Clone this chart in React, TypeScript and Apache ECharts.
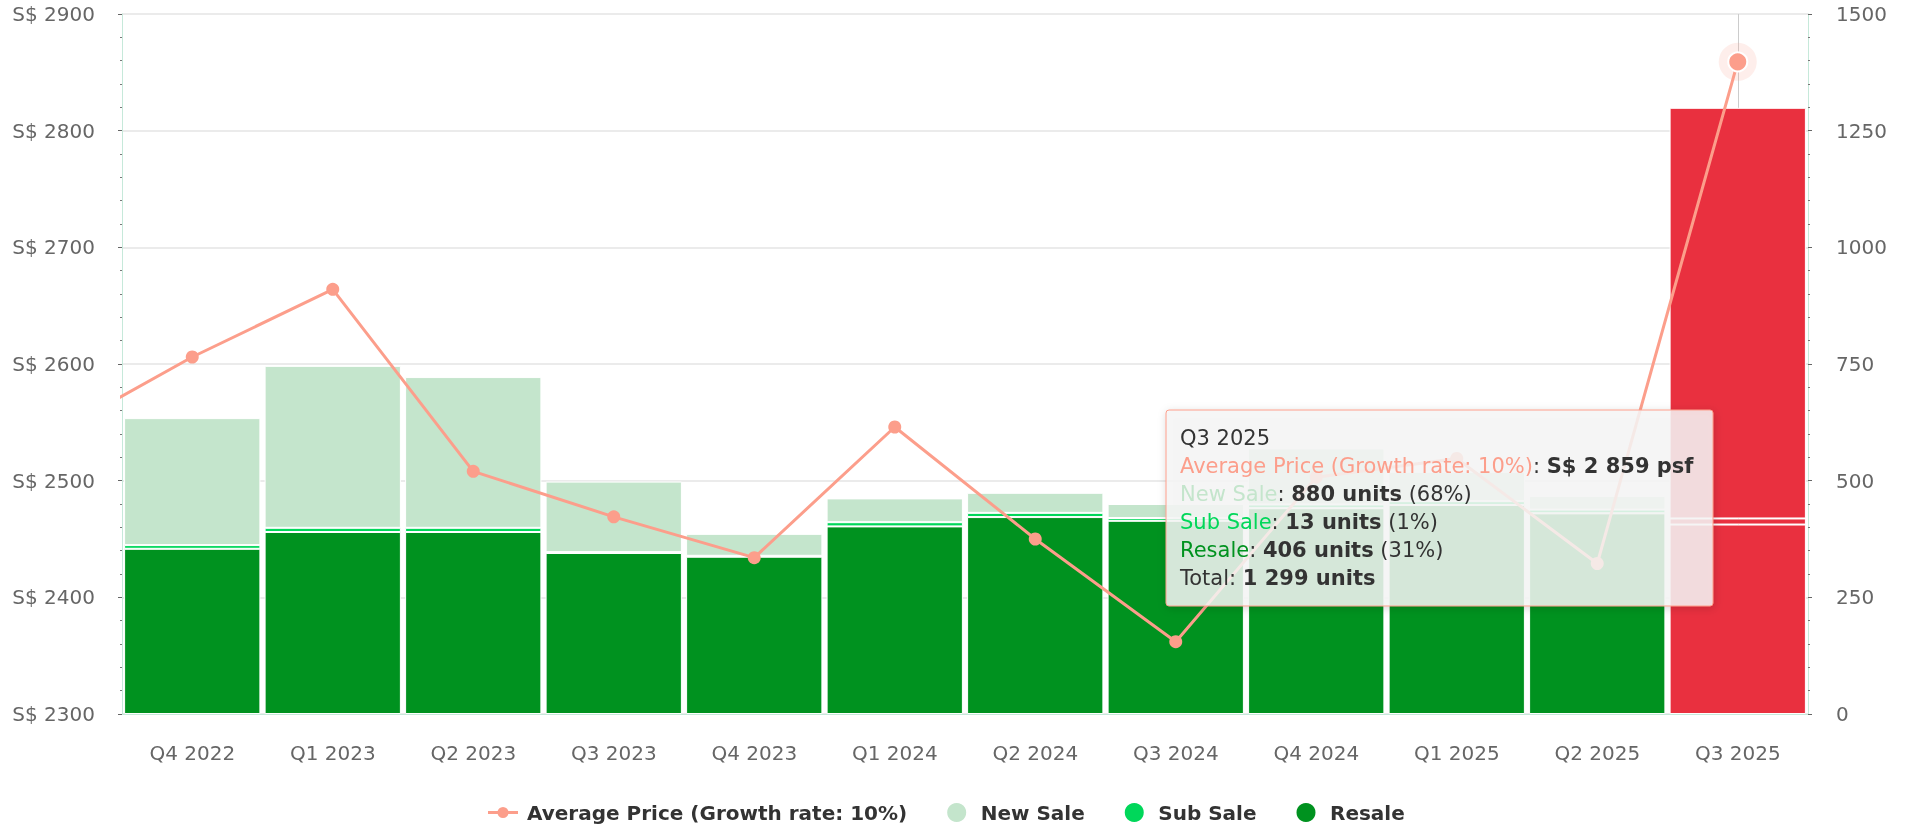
import React, { useEffect, useRef } from 'react';
import * as echarts from 'echarts';

const categories = ['Q4 2022', 'Q1 2023', 'Q2 2023', 'Q3 2023', 'Q4 2023', 'Q1 2024', 'Q2 2024', 'Q3 2024', 'Q4 2024', 'Q1 2025', 'Q2 2025', 'Q3 2025'];
// previous quarter (Q3 2022), only its connecting segment is visible at the left edge
const previousPrice = 2539;
const averagePrice = [2606, 2664, 2508, 2469, 2434, 2546, 2450, 2362, 2503, 2519, 2429, 2859];
const newSale = [272, 347, 323, 151, 47, 51, 43, 30, 120, 63, 29, 880];
const subSale = [8, 9, 9, 2, 2, 9, 9, 6, 8, 8, 8, 13];
const resale = [354, 390, 390, 345, 337, 402, 422, 414, 441, 448, 430, 406];
const highlightIndex = 11;

const priceName = 'Average Price (Growth rate: 10%)';
const FONT = 'DejaVu Sans';
const C_PRICE = '#fc9e8b';
const C_NEW = '#c4e5cc';
const C_SUB = '#00d75a';
const C_RESALE = '#00921f';
const C_HI = '#e9303f';
const C_AXIS = '#c6e9da';

const fmt = (v: number) => String(v).replace(/\B(?=(\d{3})+(?!\d))/g, ' ');

export default function App() {
  const ref = useRef<HTMLDivElement>(null);
  useEffect(() => {
    if (!ref.current) return;
    const chart = echarts.init(ref.current, undefined, { renderer: 'svg' });
    const hi = highlightIndex;
    const total = newSale[hi] + subSale[hi] + resale[hi];
    const pct = (v: number) => Math.round((v / total) * 100) + '%';
    const tipText = [
      `{h|${categories[hi]}}`,
      `{p|${priceName}}{d|: }{b|S$ ${fmt(averagePrice[hi])} psf}`,
      `{n|New Sale}{d|: }{b|${fmt(newSale[hi])} units}{d| (${pct(newSale[hi])})}`,
      `{s|Sub Sale}{d|: }{b|${fmt(subSale[hi])} units}{d| (${pct(subSale[hi])})}`,
      `{r|Resale}{d|: }{b|${fmt(resale[hi])} units}{d| (${pct(resale[hi])})}`,
      `{d|Total: }{b|${fmt(total)} units}`,
    ].join('\n');
    const rs = (color: string, bold = false) => ({
      fill: color, fontFamily: FONT, fontSize: 21, lineHeight: 28, fontWeight: bold ? 'bold' : 'normal',
    });
    const barData = (arr: number[]) =>
      arr.map((v, i) => (i === hi ? { value: v, itemStyle: { color: C_HI } } : v));
    const barCommon = {
      type: 'bar',
      stack: 'units',
      xAxisIndex: 0,
      yAxisIndex: 1,
      barCategoryGap: '3%',
      z: 2,
      emphasis: { disabled: true },
    };
    const lineData: any[] = [{ value: [-1, previousPrice], symbol: 'none' }];
    averagePrice.forEach((v, i) => {
      if (i === hi) {
        lineData.push({ value: [i, v], symbolSize: 19, itemStyle: { borderColor: '#fff', borderWidth: 2 } });
      } else {
        lineData.push([i, v]);
      }
    });
    const legendLineIcon =
      'path://M0,9H10V12H0Z M20,9H30V12H20Z M20.5,10.5A5.5,5.5 0 1 1 9.5,10.5A5.5,5.5 0 1 1 20.5,10.5Z';

    chart.setOption({
      animation: false,
      textStyle: { fontFamily: FONT },
      grid: { left: 122, right: 100, top: 14, bottom: 113, outerBoundsMode: 'none' },
      legend: {
        left: 488,
        top: 801,
        padding: 0,
        itemWidth: 30,
        itemHeight: 21,
        itemGap: 38,
        selectedMode: false,
        textStyle: { fontFamily: FONT, fontSize: 20, fontWeight: 'bold', color: '#333', padding: [0, 0, 0, 4] },
        data: [
          { name: priceName, icon: legendLineIcon },
          { name: 'New Sale', icon: 'circle' },
          { name: 'Sub Sale', icon: 'circle' },
          { name: 'Resale', icon: 'circle' },
        ],
      },
      xAxis: [
        {
          type: 'category',
          data: categories,
          boundaryGap: true,
          axisLine: { onZero: false, lineStyle: { color: C_AXIS, width: 1 } },
          axisTick: { alignWithLabel: true, length: 17, lineStyle: { color: C_AXIS } },
          axisLabel: { color: '#666', fontSize: 20, margin: 29, fontFamily: FONT },
          splitLine: { show: false },
        },
        { type: 'value', min: -0.5, max: 11.5, show: false, splitLine: { show: false } },
      ],
      yAxis: [
        {
          type: 'value',
          min: 2300,
          max: 2900,
          interval: 100,
          position: 'left',
          axisLine: { show: true, onZero: false, lineStyle: { color: C_AXIS, width: 1 } },
          axisTick: { show: true, length: 4, lineStyle: { color: '#666' } },
          minorTick: { show: true, splitNumber: 5, length: 2, lineStyle: { color: '#777' } },
          axisLabel: { color: '#666', fontSize: 20, margin: 27, fontFamily: FONT, formatter: (v: number) => 'S$ ' + v },
          splitLine: { show: true, lineStyle: { color: '#ebebeb', width: 2 } },
        },
        {
          type: 'value',
          min: 0,
          max: 1500,
          interval: 250,
          position: 'right',
          axisLine: { show: true, onZero: false, lineStyle: { color: C_AXIS, width: 1 } },
          axisTick: { show: true, length: 4, lineStyle: { color: '#666' } },
          minorTick: { show: true, splitNumber: 5, length: 2, lineStyle: { color: '#777' } },
          axisLabel: { color: '#666', fontSize: 20, margin: 28, fontFamily: FONT, formatter: (v: number) => String(v) },
          splitLine: { show: false },
        },
      ],
      series: [
        { ...barCommon, name: 'Resale', data: barData(resale), itemStyle: { color: C_RESALE, borderColor: '#fff', borderWidth: 1 } },
        { ...barCommon, name: 'Sub Sale', data: barData(subSale), itemStyle: { color: C_SUB, borderColor: '#fff', borderWidth: 1 } },
        { ...barCommon, name: 'New Sale', data: barData(newSale), itemStyle: { color: C_NEW, borderColor: '#fff', borderWidth: 1 } },
        {
          type: 'scatter',
          name: 'halo',
          xAxisIndex: 1,
          yAxisIndex: 0,
          data: [[hi, averagePrice[hi]]],
          symbolSize: 38,
          itemStyle: { color: 'rgba(252,158,139,0.22)' },
          z: 1,
          silent: true,
        },
        {
          type: 'line',
          name: priceName,
          xAxisIndex: 1,
          yAxisIndex: 0,
          data: lineData,
          symbol: 'circle',
          symbolSize: 13,
          showAllSymbol: true,
          clip: true,
          z: 4,
          lineStyle: { color: C_PRICE, width: 3 },
          itemStyle: { color: C_PRICE },
          emphasis: { disabled: true },
          markLine: {
            silent: true,
            z: 1,
            symbol: 'none',
            label: { show: false },
            lineStyle: { color: '#cccccc', width: 1, type: 'solid' },
            data: [{ xAxis: hi }],
          },
        },
      ],
      graphic: [
        {
          type: 'rect',
          z: 100,
          shape: { x: 1166, y: 410, width: 547, height: 196, r: 3 },
          style: {
            fill: 'rgba(247,247,247,0.85)',
            stroke: C_PRICE,
            lineWidth: 1,
            shadowBlur: 8,
            shadowColor: 'rgba(0,0,0,0.18)',
            shadowOffsetX: 1,
            shadowOffsetY: 2,
          },
        },
        {
          type: 'text',
          z: 101,
          x: 1180,
          y: 424,
          style: {
            text: tipText,
            fontFamily: FONT,
            fontSize: 21,
            lineHeight: 28,
            fill: '#333',
            verticalAlign: 'top',
            rich: {
              h: rs('#333'),
              p: rs(C_PRICE),
              n: rs(C_NEW),
              s: rs(C_SUB),
              r: rs(C_RESALE),
              d: rs('#333'),
              b: rs('#333', true),
            },
          },
        },
      ],
    });
    return () => chart.dispose();
  }, []);
  return <div ref={ref} style={{ position: 'fixed', left: 0, top: 0, width: 1908, height: 827 }} />;
}
